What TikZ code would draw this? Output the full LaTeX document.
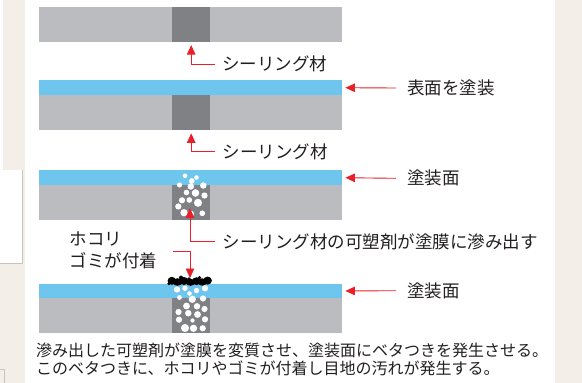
\documentclass[tikz,border=0pt]{standalone}
\usepackage{fontspec}
\setmainfont{Noto Sans CJK JP}
\usetikzlibrary{arrows.meta}

\definecolor{paper}{RGB}{243,239,232}
\definecolor{frameline}{RGB}{200,196,188}
\definecolor{board}{RGB}{187,188,192}
\definecolor{sealant}{RGB}{128,129,133}
\definecolor{coat}{RGB}{110,198,238}
\definecolor{callout}{RGB}{232,32,42}
\definecolor{ink}{RGB}{35,31,32}

\tikzset{
  board/.style={fill=board, draw=none, inner sep=0pt, minimum width=303pt, minimum height=35pt, anchor=north west},
  coatlayer/.style={fill=coat, draw=none, inner sep=0pt, minimum width=303pt, minimum height=15pt, anchor=north west},
  joint/.style={fill=sealant, draw=none, inner sep=0pt, minimum width=38pt, minimum height=35pt, anchor=north west},
  label/.style={text=ink, inner sep=0pt, anchor=west, font=\fontsize{17.5}{20}\selectfont},
  note/.style={text=ink, inner sep=0pt, anchor=west, align=left},
  pointer/.style={draw=callout, line width=0.9pt, -{Triangle[length=9.5pt,width=8.5pt]}, shorten >=3pt},
}

\begin{document}
\begin{tikzpicture}[x=1pt,y=-1pt]
  % page background and margins
  \fill[paper] (0,0) rectangle (582,383);
  \useasboundingbox (0,0) rectangle (582,383);
  \fill[white] (0,0) rectangle (3,170);
  \fill[white] (0,170) rectangle (22,263);
  \draw[frameline, line width=0.6pt] (22,170) -- (22,263) -- (0,263);
  \draw[frameline, line width=0.6pt] (0,369) -- (4,369) -- (4,383);
  \fill[white] (25,0) rectangle (555,383);

  % stage 1: boards with sealant joint
  \node[board] (g1) at (38.5,6.7) {};
  \node[joint] (j1) at (172,6.7) {};

  % stage 2: surface coated
  \node[coatlayer] (c2) at (38.5,80) {};
  \node[board] (g2) at (38.5,95) {};
  \node[joint] (j2) at (172,95) {};

  % stage 3: plasticiser bleeding into the coat
  \node[coatlayer] (c3) at (38.5,170) {};
  \node[board] (g3) at (38.5,185) {};
  \node[joint] (j3) at (172,185) {};
  \foreach \x/\y/\r in {185/175.8/1.7, 196.5/177.5/1.7, 191.8/181/2.1, 179.5/185/1.9,
      190.8/186.5/2.4, 203.3/185.5/2.4, 186.5/192.5/2.1, 195.5/193/2.8, 204.5/195.5/2.3,
      182/200.3/2.3, 189.3/200/2.1, 198/202.8/3, 178.3/206.5/2.3, 184/212.7/2.7,
      191/213.8/2.3, 202.3/213.3/2.1}
    \fill[white] (\x,\y) circle[radius=1.35*\r pt];

  % stage 4: dirt sticking to the tacky surface
  \node[coatlayer] (c4) at (38.5,283.3) {};
  \node[board] (g4) at (38.5,297.3) {};
  \node[joint] (j4) at (172,297.3) {};
  \foreach \x/\y/\r in {177/289.5/2.3, 185/288.3/2, 196.5/290.5/2, 205/288.3/2.3,
      189.5/293.5/1.7, 179.5/297.5/1.8, 192.3/299.3/2.7, 203/298.5/2.3, 186.5/306/2.5,
      197/306.3/2.4, 204.5/309/2.3, 178.5/312/2.3, 188.3/313.2/2.4, 197.5/314.5/2.5,
      179/319.7/2.3, 205/319.3/2.3, 192.5/320.5/1.6, 185/328/3, 193.5/328.3/2.7, 202.7/328.3/2.3}
    \fill[white] (\x,\y) circle[radius=1.35*\r pt];
  \begin{scope}[fill=black]
    \foreach \x/\y/\a/\b in {171.8/280.8/4.2/4, 177.5/282/5/3.8, 184/281/4.5/4,
        190.5/282.3/4.5/3.6, 196.5/281.2/4.5/3.9, 202.3/282/4.5/3.7, 207.6/280.6/4.3/4}
      \fill (\x,\y) ellipse[x radius=\a pt, y radius=\b pt];
    \fill (181,277.6) circle[radius=2pt];
    \fill (199.5,277.8) circle[radius=1.9pt];
    \fill (189,279) circle[radius=1.8pt];
    \fill (169,283.6) circle[radius=1.8pt];
  \end{scope}

  % labels
  \node[label] (s1) at (222,64) {シーリング材};
  \node[label] (s2) at (222.5,151.7) {シーリング材};
  \node[label] (s3) at (222.5,241.7) {シーリング材の可塑剤が塗膜に滲み出す};
  \node[label] (t2) at (407,88) {表面を塗装};
  \node[label] (t3) at (407,178.3) {塗装面};
  \node[label] (t4) at (407,290.7) {塗装面};
  \node[note, font=\fontsize{17.5}{22.7}\selectfont] (dust) at (69.5,250.5) {ホコリ\\ゴミが付着};
  \node[note, font=\fontsize{16}{17.5}\selectfont] (desc) at (36,359.5) {滲み出した可塑剤が塗膜を変質させ、塗装面にベタつきを発生させる。\\このベタつきに、ホコリやゴミが付着し目地の汚れが発生する。};

  % callout anchors
  \coordinate (bleed) at (190,208.3);
  \coordinate (dirt) at (190,278);
  \coordinate (dustend) at (172.7,251);

  % callout connectors
  \draw[pointer] ([xshift=-7pt]s1.west) -| (j1.south);
  \draw[pointer] ([xshift=-7.5pt]s2.west) -| (j2.south);
  \draw[pointer, shorten >=0pt] ([xshift=-7.5pt]s3.west) -| (bleed);
  \draw[pointer, shorten >=0pt] (dustend) -| (dirt);
  \draw[pointer, shorten >=3.5pt] ([xshift=-11pt]t2.west) -- (c2.east);
  \draw[pointer, shorten >=3.5pt] ([xshift=-11pt]t3.west) -- (c3.east);
  \draw[pointer, shorten >=3.5pt] ([xshift=-11pt]t4.west) -- (c4.east);
\end{tikzpicture}
\end{document}
